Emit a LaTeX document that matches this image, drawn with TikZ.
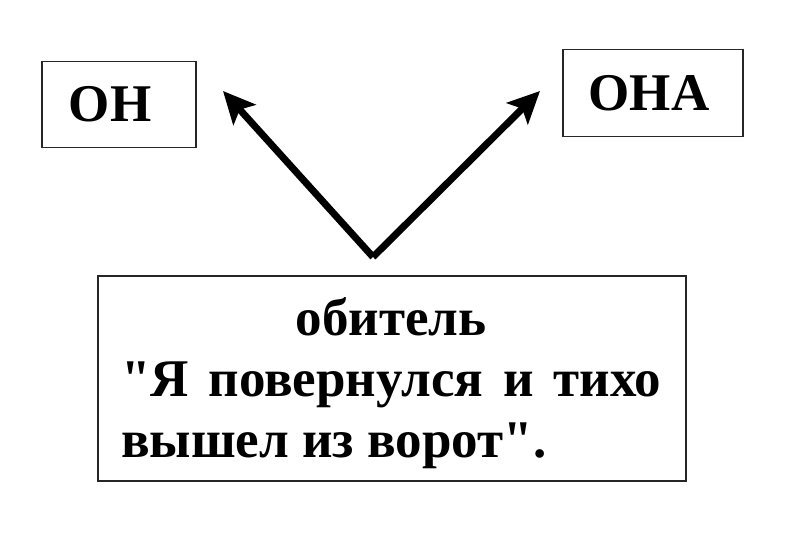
\documentclass[tikz,border=0pt]{standalone}
\usepackage{fontspec}
\setmainfont{Liberation Serif}
\usetikzlibrary{arrows.meta}

\tikzset{
	wordbox/.style={draw=black!85, line width=1.3pt, inner sep=0pt, font=\fontsize{53}{53}\bfseries},
	verse/.style={inner sep=0pt, align=left, font=\fontsize{53}{61}\bfseries},
	pointer/.style={line width=7pt, -{Stealth[length=32pt,width=30pt,inset=7pt]}}
}

\begin{document}
\begin{tikzpicture}[x=1pt, y=-1pt]

		% frame of the picture
		\useasboundingbox (0,0) rectangle (800,534);

		% the two upper boxes
		\node[wordbox, minimum width=154pt, minimum height=86pt] (on) at (119,104.5) {\hspace*{-18pt}ОН};
		\node[wordbox, minimum width=180pt, minimum height=87pt] (ona) at (653,93) {\hspace*{-8pt}ОНА};

		% the lower box and its text
		\node[wordbox, minimum width=588pt, minimum height=205pt] (obitel) at (392,378.5) {};
		\node[verse, anchor=north west] (quote) at (121,297)
			{\makebox[540pt][c]{обитель}\\
			\makebox[540pt][s]{\textquotedbl Я повернулся и тихо}\\
			вышел из ворот\textquotedbl.};

		% arrows
		\coordinate (fork) at (373,257);
		\coordinate (tipon) at (223,91);
		\coordinate (tipona) at (540,91);
		\draw[pointer] (fork) -- (tipon);
		\draw[pointer] (fork) -- (tipona);

	\end{tikzpicture}
\end{document}
